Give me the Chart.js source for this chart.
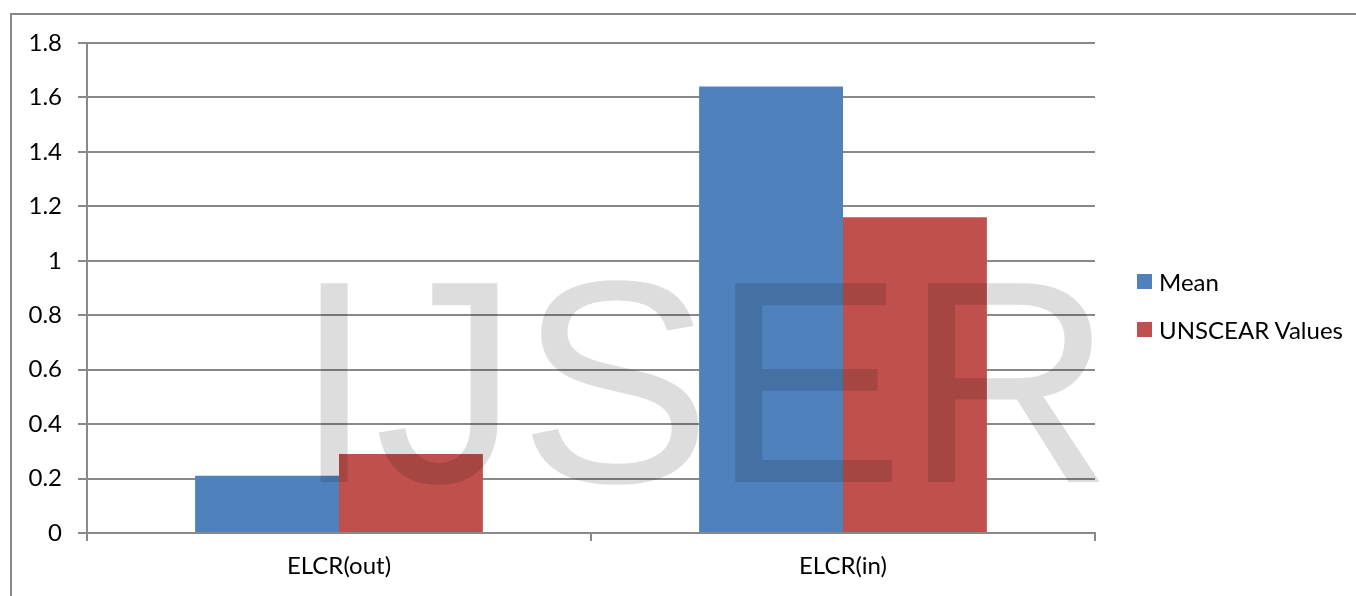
<!DOCTYPE html>
<html>
<head>
<meta charset="utf-8">
<title>ELCR</title>
<script src="https://cdn.jsdelivr.net/npm/chart.js"></script>
<style>
  html, body { margin: 0; padding: 0; background: #fff; }
  #wrap { position: relative; width: 1356px; height: 596px; }
  #legend { position: absolute; left: 1137px; top: 0; font-family: Lato, sans-serif; font-size: 24px; color: #000; }
  #legend .item { position: absolute; left: 0; height: 15px; display: flex; align-items: center; white-space: nowrap; }
  #legend .box { width: 15px; height: 15px; margin-right: 7px; }
</style>
</head>
<body>
<div id="wrap">
  <canvas id="chart" width="1356" height="596"></canvas>
  <div id="legend"></div>
</div>
<script>
// data
const categories = ['ELCR(out)', 'ELCR(in)'];
const meanValues = [0.21, 1.64];
const unscearValues = [0.29, 1.16];
const yTickLabels = ['0', '0.2', '0.4', '0.6', '0.8', '1', '1.2', '1.4', '1.6', '1.8'];

const gridColor = '#898989';
const tickFont = { family: 'Lato', size: 24 };

// white page, grey frame (left + top edge only) and the IJSER watermark
const pagePlugin = {
    id: 'page',
    beforeDraw(chart) {
        const ctx = chart.ctx;
        ctx.save();
        ctx.fillStyle = '#fff';
        ctx.fillRect(0, 0, chart.width, chart.height);
        ctx.strokeStyle = gridColor;
        ctx.lineWidth = 2;
        ctx.beginPath();
        ctx.moveTo(11, chart.height);
        ctx.lineTo(11, 14);
        ctx.lineTo(chart.width, 14);
        ctx.stroke();
        ctx.restore();
    },
    afterDraw(chart) {
        const ctx = chart.ctx;
        ctx.save();
        ctx.globalCompositeOperation = 'multiply';
        ctx.fillStyle = '#dddddd';
        ctx.font = '289px "Liberation Sans"';
        ctx.textBaseline = 'alphabetic';
        ctx.fillText('IJSER', 294, 482);
        ctx.restore();
    }
};

// legend built from the datasets, placed to the right of the plot
const htmlLegend = {
    id: 'htmlLegend',
    afterUpdate(chart) {
        const box = document.getElementById('legend');
        box.innerHTML = '';
        chart.data.datasets.forEach((ds, i) => {
            const item = document.createElement('div');
            item.className = 'item';
            item.style.top = (274 + i * 48) + 'px';
            const sw = document.createElement('span');
            sw.className = 'box';
            sw.style.background = ds.backgroundColor;
            const txt = document.createElement('span');
            txt.textContent = ds.label;
            item.appendChild(sw);
            item.appendChild(txt);
            box.appendChild(item);
        });
    }
};

new Chart(document.getElementById('chart'), {
    type: 'bar',
    data: {
        labels: categories,
        datasets: [
            {
                label: 'Mean',
                data: meanValues,
                backgroundColor: '#4F81BD',
                categoryPercentage: 0.571,
                barPercentage: 1.0
            },
            {
                label: 'UNSCEAR Values',
                data: unscearValues,
                backgroundColor: '#C0504D',
                categoryPercentage: 0.571,
                barPercentage: 1.0
            }
        ]
    },
    options: {
        responsive: false,
        animation: false,
        layout: {
            padding: { left: 12, top: 43, right: 261, bottom: 0 }
        },
        scales: {
            y: {
                min: 0,
                max: 1.8,
                ticks: {
                    stepSize: 0.2,
                    color: '#000',
                    font: tickFont,
                    padding: 16,
                    callback: (value, index) => yTickLabels[index]
                },
                grid: {
                    color: gridColor,
                    lineWidth: 2,
                    tickLength: 9
                },
                border: { color: gridColor, width: 2 },
                afterFit(scale) { scale.width = 75; }
            },
            x: {
                ticks: {
                    color: '#000',
                    font: tickFont,
                    padding: 11
                },
                grid: {
                    color: gridColor,
                    lineWidth: 2,
                    drawOnChartArea: false,
                    tickLength: 8
                },
                border: { color: gridColor, width: 2 },
                afterFit(scale) { scale.height = 63; }
            }
        },
        plugins: {
            legend: { display: false },
            tooltip: { enabled: false }
        }
    },
    plugins: [pagePlugin, htmlLegend]
});
</script>
</body>
</html>
